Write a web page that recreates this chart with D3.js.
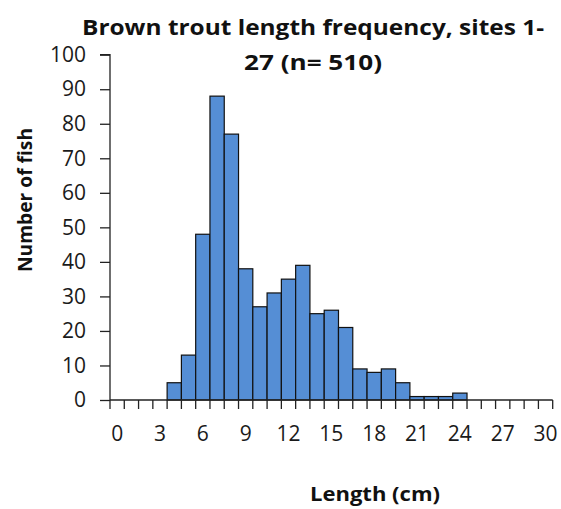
<!DOCTYPE html>
<html><head><meta charset="utf-8">
<script src="https://cdn.jsdelivr.net/npm/d3@7"></script>
<style>body{margin:0;background:#fff}svg{display:block}text{font-family:"Open Sans","Liberation Sans",sans-serif}</style>
</head><body><svg id="c" width="561" height="509"></svg>
<script>
const lengths = d3.range(0, 31); // cm bins 0..30
const counts = [0,0,0,0,5,13,48,88,77,38,27,31,35,39,25,26,21,9,8,9,5,1,1,1,2,0,0,0,0,0,0];
const xTickLabels = [0,3,6,9,12,15,18,21,24,27,30];
const yTicks = [0,10,20,30,40,50,60,70,80,90,100];
const titleLines = ["Brown trout length frequency, sites 1-", "27 (n= 510)"];

const svg = d3.select("#c");
const left = 110, right = 552.7;
const x = d3.scaleBand().domain(lengths).range([left, right]).padding(0);
const y = d3.scaleLinear().domain([0,100]).range([400, 54.7]);

svg.append("g").selectAll("rect").data(lengths.filter((d,i)=>counts[i]>0)).join("rect")
  .attr("x", d=>x(d)).attr("width", x.bandwidth())
  .attr("y", d=>y(counts[d])).attr("height", d=>y(0)-y(counts[d]))
  .attr("fill","#558ed5").attr("stroke","#111").attr("stroke-width",1.2);

// y axis
const ya = svg.append("g").attr("transform",`translate(${left},0)`)
  .call(d3.axisLeft(y).tickValues(yTicks).tickSize(10).tickPadding(14));
ya.select(".domain").attr("stroke","#222").attr("stroke-width",1.3).attr("d",`M-10,${y(100)}H0V${y(0)}`);
ya.selectAll(".tick line").attr("stroke","#222").attr("stroke-width",1.3);
ya.selectAll("text").attr("font-size",21).attr("fill","#1a1a1a").attr("font-family","'Open Sans',sans-serif");

// x axis with ticks at bin boundaries
const xa = svg.append("g").attr("transform",`translate(0,${y(0)})`);
xa.append("line").attr("x1",left).attr("x2",right).attr("stroke","#222").attr("stroke-width",1.3);
const bounds = lengths.map(d=>x(d)).concat([x(30)+x.bandwidth()]);
xa.selectAll("line.t").data(bounds).join("line").attr("class","t")
  .attr("x1",d=>d).attr("x2",d=>d).attr("y1",0).attr("y2",9).attr("stroke","#222").attr("stroke-width",1.3);
xa.selectAll("text").data(xTickLabels).join("text")
  .attr("x",d=>x(d)+x.bandwidth()/2).attr("y",41).attr("text-anchor","middle")
  .attr("font-size",21).attr("fill","#1a1a1a").text(d=>d);

// titles
svg.append("g").selectAll("text").data(titleLines).join("text")
  .attr("x",313).attr("y",(d,i)=>35+i*35).attr("text-anchor","middle")
  .attr("font-size",21.5).attr("font-weight","bold").attr("fill","#111")
  .attr("textLength",(d,i)=>i===0?462:138).attr("lengthAdjust","spacingAndGlyphs").text(d=>d);
svg.append("text").attr("transform","translate(32,200) rotate(-90)").attr("text-anchor","middle")
  .attr("font-size",20).attr("font-weight","bold").attr("fill","#111")
  .attr("textLength",144).attr("lengthAdjust","spacingAndGlyphs").text("Number of fish");
svg.append("text").attr("x",375).attr("y",501).attr("text-anchor","middle")
  .attr("font-size",20).attr("font-weight","bold").attr("fill","#111")
  .attr("textLength",130).attr("lengthAdjust","spacingAndGlyphs").text("Length (cm)");
</script></body></html>
